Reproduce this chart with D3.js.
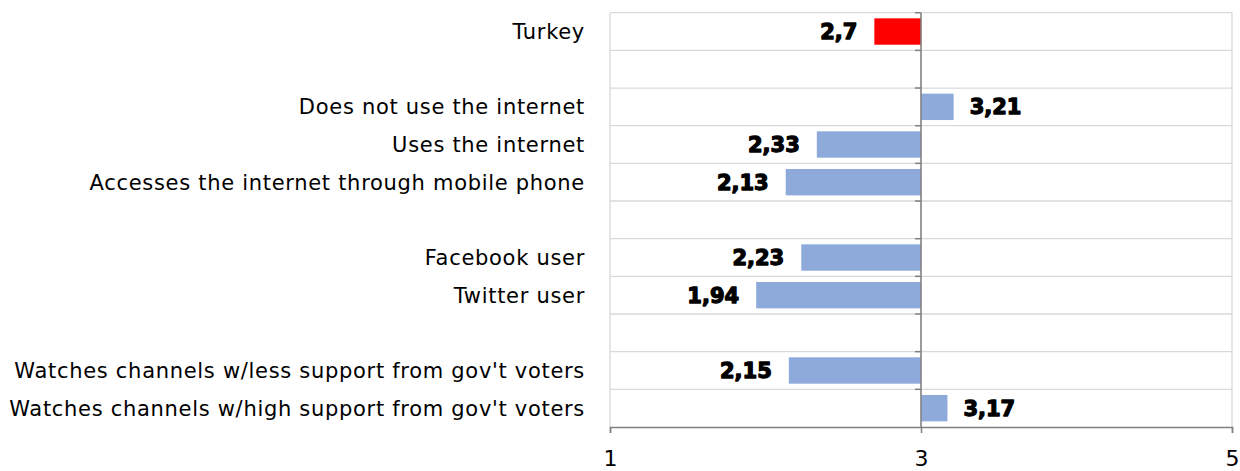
<!DOCTYPE html>
<html>
<head>
<meta charset="utf-8">
<script src="https://cdn.jsdelivr.net/npm/d3@7"></script>
<style>
  html, body { margin: 0; padding: 0; background: #fff; }
  svg { display: block; }
</style>
</head>
<body>
<svg id="chart" width="1240" height="471"></svg>
<script>
// Rows from top to bottom; empty strings are spacer rows between groups
const categories = [
  "Turkey",
  "",
  "Does not use the internet",
  "Uses the internet",
  "Accesses the internet through mobile phone",
  "",
  "Facebook user",
  "Twitter user",
  "",
  "Watches channels w/less support from gov't voters",
  "Watches channels w/high support from gov't voters"
];
const values = [2.7, null, 3.21, 2.33, 2.13, null, 2.23, 1.94, null, 2.15, 3.17];
const barColors = ["#ff0000", null, "#8eaadb", "#8eaadb", "#8eaadb", null, "#8eaadb", "#8eaadb", null, "#8eaadb", "#8eaadb"];
const xTicks = [1, 3, 5];
const baseline = 3;

const svg = d3.select("#chart");
const margin = { top: 12.7, right: 8, bottom: 44, left: 610 };
const width = 1240, height = 471;

const x = d3.scaleLinear().domain([1, 5]).range([margin.left, 1232]);
const rows = d3.range(categories.length);
const y = d3.scaleBand().domain(rows).range([margin.top, height - margin.bottom]).paddingInner(0.3).paddingOuter(0.15);
const step = y.step();
const rowTop = i => margin.top + i * step;
const yTop = margin.top, yBottom = height - margin.bottom;

// Gridlines: row boundaries and vertical ticks
const grid = svg.append("g").attr("stroke", "#d9d9d9").attr("stroke-width", 1.3);
grid.selectAll("line.h").data(d3.range(categories.length)).join("line")
  .attr("x1", x(1)).attr("x2", x(5))
  .attr("y1", i => rowTop(i)).attr("y2", i => rowTop(i));
grid.selectAll("line.v").data(xTicks).join("line")
  .attr("x1", d => x(d)).attr("x2", d => x(d))
  .attr("y1", yTop).attr("y2", yBottom);

// Bars drawn from the baseline at 3
const data = rows.map(i => ({ i, label: categories[i], v: values[i], c: barColors[i] })).filter(d => d.v != null);
svg.append("g").selectAll("rect").data(data).join("rect")
  .attr("x", d => x(Math.min(d.v, baseline)))
  .attr("width", d => Math.abs(x(d.v) - x(baseline)))
  .attr("y", d => y(d.i))
  .attr("height", y.bandwidth())
  .attr("fill", d => d.c);

// Value labels outside the bar ends
const fmt = v => String(v).replace(".", ",");
svg.append("g").selectAll("text").data(data).join("text")
  .attr("x", d => d.v < baseline ? x(d.v) - 17 : x(d.v) + 16)
  .attr("y", d => y(d.i) + y.bandwidth() / 2)
  .attr("dy", "0.36em")
  .attr("text-anchor", d => d.v < baseline ? "end" : "start")
  .attr("font-family", "'DejaVu Sans', sans-serif")
  .attr("font-weight", "bold")
  .attr("font-size", 21)
  .attr("stroke", "#000").attr("stroke-width", 1.3)
  .attr("stroke-linejoin", "round")
  .attr("fill", "#000")
  .text(d => fmt(d.v));

// Category labels on the left
svg.append("g").selectAll("text").data(rows.filter(i => categories[i] !== "")).join("text")
  .attr("x", 585)
  .attr("y", i => y(i) + y.bandwidth() / 2)
  .attr("dy", "0.36em")
  .attr("text-anchor", "end")
  .attr("font-family", "'DejaVu Sans', sans-serif")
  .attr("font-size", 21)
  .attr("letter-spacing", 0.7)
  .attr("fill", "#000")
  .text(i => categories[i]);

// Category axis line at the baseline with small ticks at row boundaries
const axisColor = "#808080";
svg.append("line")
  .attr("x1", x(baseline)).attr("x2", x(baseline))
  .attr("y1", yTop).attr("y2", yBottom)
  .attr("stroke", axisColor).attr("stroke-width", 1.5);
svg.append("g").selectAll("line").data(d3.range(categories.length)).join("line")
  .attr("x1", x(baseline) - 6).attr("x2", x(baseline))
  .attr("y1", i => rowTop(i)).attr("y2", i => rowTop(i))
  .attr("stroke", axisColor).attr("stroke-width", 1.5);

// Value axis at the bottom
const xAxis = d3.axisBottom(x).tickValues(xTicks).tickSize(6).tickPadding(17).tickFormat(d3.format("d"));
const gx = svg.append("g").attr("transform", `translate(0,${yBottom})`).call(xAxis);
gx.select(".domain").attr("stroke", axisColor).attr("stroke-width", 1.5);
gx.selectAll(".tick line").attr("stroke", axisColor).attr("stroke-width", 1.5);
gx.selectAll(".tick text")
  .attr("font-family", "'DejaVu Sans', sans-serif")
  .attr("font-size", 22)
  .attr("fill", "#000");
</script>
</body>
</html>
